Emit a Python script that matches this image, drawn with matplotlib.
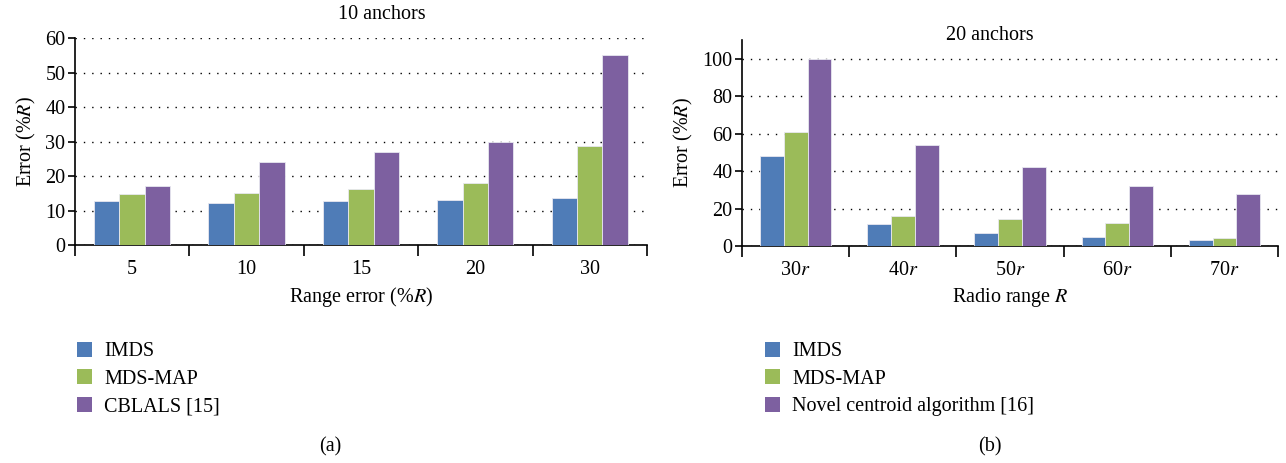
import numpy as np
import matplotlib
matplotlib.use('Agg')
import matplotlib.pyplot as plt
from matplotlib.patches import Patch

plt.rcParams['font.family'] = ['Liberation Serif', 'DejaVu Serif']
plt.rcParams['mathtext.fontset'] = 'stix'
plt.rcParams['font.size'] = 14.5
FS = 14.5

# (a) 10 anchors
cats_a = ['5', '10', '15', '20', '30']
imds_a = [12.8, 12.2, 12.7, 13.0, 13.5]
mdsmap_a = [14.8, 15.0, 16.3, 17.9, 28.7]
cblals_a = [17.0, 24.0, 27.0, 30.0, 55.0]

# (b) 20 anchors
cats_b = ['30$r$', '40$r$', '50$r$', '60$r$', '70$r$']
imds_b = [48.0, 11.5, 7.0, 4.8, 3.0]
mdsmap_b = [61.0, 16.0, 14.5, 12.3, 4.0]
novel_b = [100.0, 54.0, 42.0, 32.0, 28.0]

colors = ['#4F7CB7', '#9BBB59', '#7D60A0']

fig = plt.figure(figsize=(12.86, 4.63), dpi=100)
ax1 = fig.add_axes([0.0583, 0.4708, 0.4448, 0.447])
ax2 = fig.add_axes([0.577, 0.4687, 0.4168, 0.445])


def draw(ax, cats, series, ylim, yticks, xlabel):
    x = np.arange(len(cats))
    w = 0.222
    for k, (vals, c) in enumerate(zip(series, colors)):
        ax.bar(x + (k - 1) * w, vals, w, color=c, edgecolor='#e8e8f0', linewidth=0.6, zorder=3)
    ax.set_xlim(-0.5, len(cats) - 0.5)
    ax.set_ylim(*ylim)
    ax.set_yticks(yticks)
    ax.set_xticks(np.arange(len(cats) + 1) - 0.5)
    ax.set_xticklabels([])
    ax.set_xticks(x, minor=True)
    ax.set_xticklabels(cats, minor=True)
    ax.tick_params(axis='x', which='minor', length=0, pad=11, labelsize=FS)
    ax.tick_params(axis='x', which='major', direction='out', length=8, width=1.2)
    ax.tick_params(axis='y', direction='out', length=5, width=1.2, labelsize=FS, pad=2)
    for s in ['top', 'right']:
        ax.spines[s].set_visible(False)
    ax.spines['left'].set_linewidth(1.2)
    ax.spines['bottom'].set_linewidth(1.2)
    ax.yaxis.grid(True, linestyle=(0, (1, 5)), color='black', linewidth=1.0, zorder=0)
    ax.set_axisbelow(True)
    ax.set_ylabel('Error (%$R$)', fontsize=FS, labelpad=5)
    ax.set_xlabel(xlabel, fontsize=FS, labelpad=4)


draw(ax1, cats_a, [imds_a, mdsmap_a, cblals_a], (0, 60), range(0, 61, 10), 'Range error (%$R$)')
draw(ax2, cats_b, [imds_b, mdsmap_b, novel_b], (0, 110), range(0, 101, 20), 'Radio range $R$')

fig.text(0.297, 0.968, '10 anchors', ha='center', va='center', fontsize=FS)
fig.text(0.77, 0.924, '20 anchors', ha='center', va='center', fontsize=FS)

labels_a = ['IMDS', 'MDS-MAP', 'CBLALS [15]']
labels_b = ['IMDS', 'MDS-MAP', 'Novel centroid algorithm [16]']
for labs, xpos in [(labels_a, 0.0537), (labels_b, 0.5887)]:
    handles = [Patch(facecolor=c, edgecolor='none') for c in colors]
    fig.legend(handles, labs, loc='upper left', bbox_to_anchor=(xpos, 0.279), frameon=False,
               handlelength=0.75, handleheight=0.75, handletextpad=0.6, labelspacing=0.4,
               fontsize=FS, borderaxespad=0)

fig.text(0.257, 0.034, '(a)', ha='center', va='center', fontsize=FS)
fig.text(0.77, 0.034, '(b)', ha='center', va='center', fontsize=FS)

fig.savefig('out.png', dpi=100)
